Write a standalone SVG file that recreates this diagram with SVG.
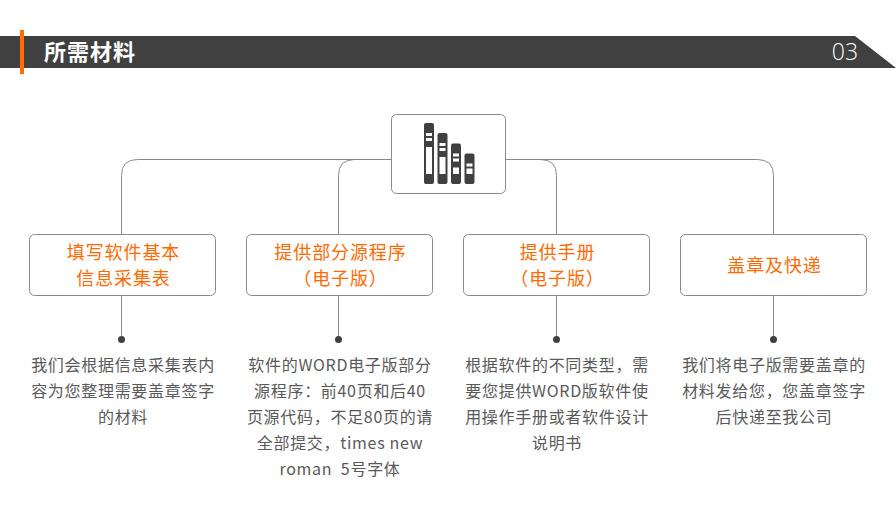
<svg xmlns="http://www.w3.org/2000/svg" width="896" height="507" viewBox="0 0 896 507">
<style>
text{font-family:"Noto Sans CJK SC","Noto Sans",sans-serif;text-anchor:middle}
.box{fill:#fff;stroke:#8a8a8a;stroke-width:1}
.line{fill:none;stroke:#8a8a8a;stroke-width:1}
.dot{fill:#404040}
.t{font-size:18px;fill:#ff6a00;letter-spacing:.9px;font-weight:400}
.d{font-size:16px;fill:#595959;letter-spacing:.7px}
.b{fill:#404040}
.w{fill:#fff}
</style>
<rect width="896" height="507" fill="#fff"/>
<g id="header">
<path d="M0 36H855L896 68H0Z" fill="#404040"/>
<rect x="20" y="30" width="4" height="44" fill="#ff6d00"/>
<text x="90" y="60" font-size="22" font-weight="700" fill="#fff" letter-spacing="1">所需材料</text>
<text x="845" y="60" font-size="23" font-weight="300" fill="#fff" style="font-family:'Open Sans','Noto Sans',sans-serif">03</text>
</g>
<g id="connectors">
<path class="line" d="M391.500 159.500H137.500Q121.500 159.500 121.500 175.500V234.500"/>
<path class="line" d="M391.500 159.500H354.500Q338.500 159.500 338.500 175.500V234.500"/>
<path class="line" d="M505.500 159.500H757.500Q773.500 159.500 773.500 175.500V234.500"/>
<path class="line" d="M505.500 159.500H540.500Q556.500 159.500 556.500 175.500V234.500"/>
<path class="line" d="M121.500 295.500V339M338.500 295.500V339M556.500 295.500V339M773.500 295.500V339"/>
<circle class="dot" cx="121.500" cy="339.500" r="3.500"/>
<circle class="dot" cx="338.500" cy="339.500" r="3.500"/>
<circle class="dot" cx="556.500" cy="339.500" r="3.500"/>
<circle class="dot" cx="773.500" cy="339.500" r="3.500"/>
</g>
<g id="icon-node">
<rect class="box" x="391.500" y="114.500" width="114" height="79" rx="5"/>
<rect class="b" x="424" y="123" width="10" height="61" rx="2"/>
<rect class="b" x="437.500" y="133" width="10" height="51" rx="2"/>
<rect class="b" x="451" y="143.500" width="10" height="40.500" rx="2"/>
<rect class="b" x="464.500" y="153.500" width="10" height="30.500" rx="2"/>
<path class="w" d="M426 133h6v3h-6zM426 138h6v3h-6zM426 147h6v27h-6zM439.500 143h6v3h-6zM439.500 148h6v3h-6zM439.500 157h6v17h-6zM453 153.500h6v3h-6zM453 158.500h6v3h-6zM453 167.500h6v6.500h-6zM466.500 163.500h6v3h-6zM466.500 168.500h6v5.500h-6z"/>
</g>
<g id="node-1">
<rect class="box" x="29.500" y="234.500" width="186" height="61" rx="5"/>
<text class="t" x="123.500" y="259">填写软件基本</text>
<text class="t" x="123.500" y="285">信息采集表</text>
<text class="d" x="123" y="371">我们会根据信息采集表内</text>
<text class="d" x="123" y="397">容为您整理需要盖章签字</text>
<text class="d" x="123" y="423">的材料</text>
</g>
<g id="node-2">
<rect class="box" x="246.500" y="234.500" width="186" height="61" rx="5"/>
<text class="t" x="340.500" y="259">提供部分源程序</text>
<text class="t" x="340.500" y="285">（电子版）</text>
<text class="d" x="340" y="371">软件的WORD电子版部分</text>
<text class="d" x="340" y="397">源程序：前40页和后40</text>
<text class="d" x="340" y="423">页源代码，不足80页的请</text>
<text class="d" x="340" y="449">全部提交，times new</text>
<text class="d" x="340" y="475" xml:space="preserve">roman  5号字体</text>
</g>
<g id="node-3">
<rect class="box" x="463.500" y="234.500" width="186" height="61" rx="5"/>
<text class="t" x="557.500" y="259">提供手册</text>
<text class="t" x="557.500" y="285">（电子版）</text>
<text class="d" x="557" y="371">根据软件的不同类型，需</text>
<text class="d" x="557" y="397">要您提供WORD版软件使</text>
<text class="d" x="557" y="423">用操作手册或者软件设计</text>
<text class="d" x="557" y="449">说明书</text>
</g>
<g id="node-4">
<rect class="box" x="680.500" y="234.500" width="186" height="61" rx="5"/>
<text class="t" x="774.500" y="272">盖章及快递</text>
<text class="d" x="774" y="371">我们将电子版需要盖章的</text>
<text class="d" x="774" y="397">材料发给您，您盖章签字</text>
<text class="d" x="774" y="423">后快递至我公司</text>
</g>
</svg>
